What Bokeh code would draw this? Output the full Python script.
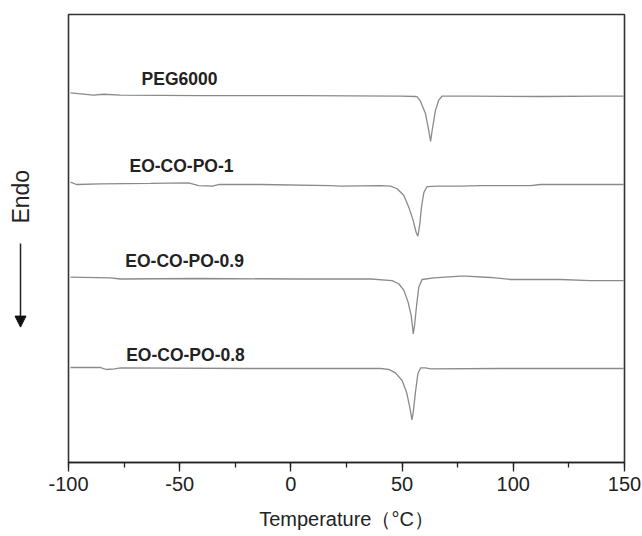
import math
from bokeh.plotting import figure
from bokeh.layouts import row
from bokeh.models import Range1d, Label, Arrow, NormalHead, SingleIntervalTicker
from bokeh.embed import file_html
from bokeh.resources import INLINE

# ---- data (temperature in °C, heat flow in arbitrary offset units) ----
peg_t = [-99.1, -94.6, -88.8, -84.3, -76.6, -40.6, 4.3, 49.3, 56.0, 56.8, 58.3, 60.5, 62.0, 62.8,
         63.5, 65.0, 66.5, 68.0, 80.8, 112.2, 139.2, 149.6]
peg_v = [82.5, 82.3, 82.0, 82.2, 82.0, 81.9, 81.9, 81.8, 81.7, 81.6, 80.6, 77.9, 74.1, 71.65,
         74.1, 78.6, 80.9, 81.8, 81.8, 81.7, 81.8, 81.8]

eo1_t = [-99.1, -96.4, -85.6, -63.1, -46.0, -41.5, -35.3, -32.6, -13.7, 17.8, 22.3, 40.3, 44.8,
         47.8, 50.8, 53.0, 55.0, 56.3, 57.1, 58.0, 58.7, 59.8, 61.3, 65.8, 76.3, 85.3, 107.7, 112.2, 149.6]
eo1_v = [62.6, 62.05, 62.2, 62.3, 62.4, 61.8, 61.7, 62.05, 62.05, 61.8, 61.7, 61.8, 61.7,
         61.1, 59.6, 57.0, 54.0, 51.4, 50.5, 53.3, 57.0, 60.3, 61.6, 61.7, 61.7, 61.8, 61.8, 62.05, 62.05]

eo09_t = [-99.1, -81.1, -76.6, -40.6, 4.3, 35.8, 45.5, 48.5, 50.8, 52.7, 54.1, 54.8, 55.0, 55.6,
          56.5, 57.5, 59.0, 64.3, 76.3, 78.5, 89.7, 98.7, 121.2, 134.7, 149.6]
eo09_v = [41.4, 41.2, 40.96, 41.07, 40.96, 40.96, 40.6, 39.9, 38.4, 35.8, 32.8, 29.8, 28.7, 30.6,
          35.0, 39.1, 40.85, 41.2, 41.6, 41.6, 41.3, 40.85, 40.85, 40.6, 40.6]

eo08_t = [-99.1, -85.6, -82.9, -79.3, -76.6, -18.2, 40.3, 44.0, 47.0, 50.0, 52.0, 53.3, 54.1, 54.4,
          55.0, 56.0, 57.1, 58.3, 60.5, 62.8, 94.2, 149.6]
eo08_v = [21.2, 21.2, 20.76, 20.9, 21.1, 20.98, 20.98, 20.8, 20.0, 18.3, 15.7, 12.7, 10.5, 9.5,
          11.2, 15.7, 19.8, 21.1, 21.1, 20.9, 20.98, 20.98]

series_names = ["PEG6000", "EO-CO-PO-1", "EO-CO-PO-0.9", "EO-CO-PO-0.8"]
series_t = [peg_t, eo1_t, eo09_t, eo08_t]
series_v = [peg_v, eo1_v, eo09_v, eo08_v]

x_ticks = [-100, -50, 0, 50, 100, 150]

# label anchor positions (data coords)
label_pos = [(-50.1, 85.5), (-49.2, 66.1), (-47.8, 44.9), (-47.4, 23.9)]

FONT = "Liberation Sans"
INK = "#222222"

# ---- left strip holding the "Endo" label and its arrow ----
side = figure(width=48, height=536, output_backend="svg", toolbar_location=None, title=None,
              x_range=Range1d(0, 48), y_range=Range1d(0, 536),
              min_border=0, min_border_left=0, min_border_right=0,
              min_border_top=0, min_border_bottom=0)
side.axis.visible = False
side.grid.visible = False
side.outline_line_color = None
side.background_fill_color = "white"
side.border_fill_color = "white"
side.add_layout(Label(x=20, y=318, text="Endo", angle=math.pi / 2, text_font=FONT,
                      text_font_size="23px", text_color=INK,
                      text_align="center", text_baseline="middle"))
side.add_layout(Arrow(x_start=20, y_start=262, x_end=20, y_end=162,
                      line_color=INK, line_width=1.5,
                      end=NormalHead(size=11, fill_color="#111111", line_color="#111111")))

# ---- main plot ----
p = figure(width=594, height=536, output_backend="svg", toolbar_location=None,
           x_range=Range1d(-100, 150), y_range=Range1d(0, 100),
           min_border_left=20, min_border_right=18, min_border_top=14, min_border_bottom=74)
p.background_fill_color = "white"
p.border_fill_color = "white"
p.grid.visible = False
p.yaxis.visible = False
p.outline_line_color = "#333333"
p.outline_line_width = 1.6

for t, v in zip(series_t, series_v):
    p.line(t, v, line_color="#8a8a8a", line_width=1.3)

for name, (lx, ly) in zip(series_names, label_pos):
    p.add_layout(Label(x=lx, y=ly, text=name, text_font=FONT, text_font_size="17.5px",
                       text_font_style="bold", text_color=INK,
                       text_align="center", text_baseline="middle"))

xa = p.xaxis[0]
xa.ticker = SingleIntervalTicker(interval=50, num_minor_ticks=2)
xa.major_label_overrides = {t: str(t) for t in x_ticks}
xa.axis_line_color = INK
xa.axis_line_width = 1.6
xa.major_tick_line_color = INK
xa.minor_tick_line_color = INK
xa.major_tick_line_width = 1.3
xa.minor_tick_line_width = 1.3
xa.major_tick_out = 9
xa.major_tick_in = 0
xa.minor_tick_out = 5
xa.minor_tick_in = 0
xa.major_label_standoff = 5
xa.major_label_text_font = FONT
xa.major_label_text_font_size = "20px"
xa.major_label_text_color = INK
xa.axis_label = "Temperature（°C）"
xa.axis_label_text_font = FONT
xa.axis_label_text_font_size = "20px"
xa.axis_label_text_font_style = "normal"
xa.axis_label_text_color = INK
xa.axis_label_standoff = 14

layout = row(side, p, spacing=0)
open("out.html", "w").write(file_html(layout, INLINE))
